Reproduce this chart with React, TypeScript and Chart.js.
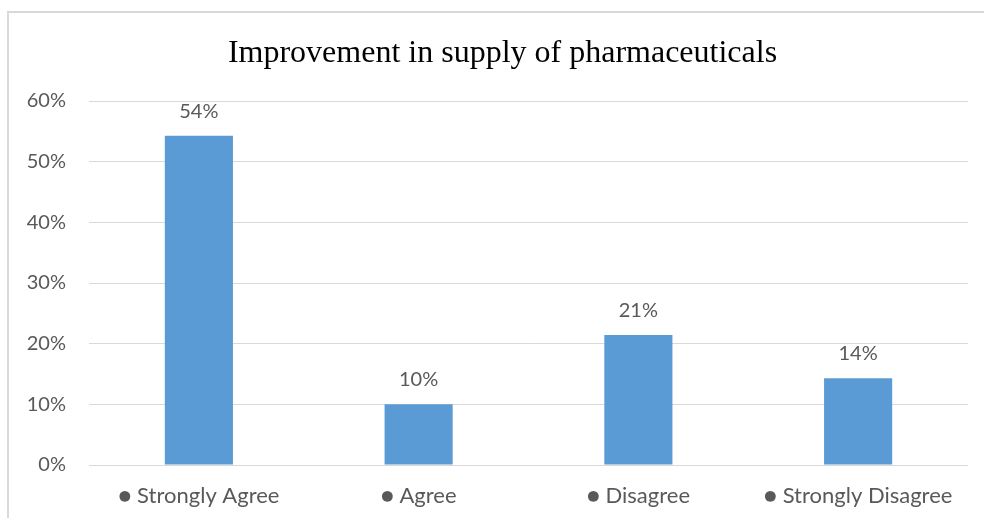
import React, { useEffect, useRef } from "react";
import { Chart, registerables } from "chart.js";

Chart.register(...registerables);

const TITLE = "Improvement in supply of pharmaceuticals";
const categories = ["Strongly Agree", "Agree", "Disagree", "Strongly Disagree"];
const values = [54.29, 10.0, 21.43, 14.29];
const yMin = 0;
const yMax = 60;
const yStep = 10;

const TEXT = "#595959";
const BAR = "#5B9BD5";
const GRID = "#D9D9D9";
const TICK_FONT = "Lato";

const framePlugin = {
  id: "frame",
  beforeDraw(chart: any) {
    const ctx = chart.ctx;
    ctx.save();
    ctx.fillStyle = "#ffffff";
    ctx.fillRect(0, 0, chart.width, chart.height);
    ctx.strokeStyle = GRID;
    ctx.lineWidth = 2;
    ctx.beginPath();
    ctx.moveTo(8, chart.height + 5);
    ctx.lineTo(8, 12);
    ctx.lineTo(chart.width + 5, 12);
    ctx.stroke();
    ctx.restore();
  },
  afterDraw(chart: any) {
    const ctx = chart.ctx;
    ctx.save();
    ctx.font = "32px 'Liberation Serif'";
    ctx.fillStyle = "#000000";
    ctx.textAlign = "center";
    ctx.textBaseline = "alphabetic";
    ctx.fillText(TITLE, 502.5, 62);
    ctx.restore();
  },
};

const labelPlugin = {
  id: "barLabels",
  afterDatasetsDraw(chart: any) {
    const ctx = chart.ctx;
    const meta = chart.getDatasetMeta(0);
    ctx.save();
    ctx.font = `20px ${TICK_FONT}`;
    ctx.fillStyle = TEXT;
    ctx.textAlign = "center";
    ctx.textBaseline = "alphabetic";
    meta.data.forEach((el: any, i: number) => {
      const v = chart.data.datasets[0].data[i];
      ctx.fillText(`${Math.round(v)}%`, el.x, el.y - 18);
    });
    ctx.restore();
  },
};

export default function App() {
  const ref = useRef<HTMLCanvasElement | null>(null);
  useEffect(() => {
    if (!ref.current) return;
    const chart = new Chart(ref.current, {
      type: "bar",
      data: {
        labels: categories,
        datasets: [
          {
            data: values,
            backgroundColor: BAR,
            barPercentage: 1,
            categoryPercentage: 0.31,
          },
        ],
      },
      plugins: [framePlugin, labelPlugin],
      options: {
        animation: false,
        responsive: false,
        devicePixelRatio: 1,
        layout: { padding: { left: 0, right: 16, top: 101, bottom: 0 } },
        plugins: {
          legend: { display: false },
          tooltip: { enabled: false },
          title: { display: false },
        },
        scales: {
          x: {
            grid: { display: false },
            border: { display: false },
            ticks: {
              color: TEXT,
              font: { family: TICK_FONT, size: 22 },
              padding: 10,
              maxRotation: 0,
              autoSkip: false,
              callback: function (this: any, value: any) {
                return "\u25CF " + this.getLabelForValue(value);
              },
            },
            afterFit(scale: any) {
              scale.height = 53;
            },
          },
          y: {
            min: yMin,
            max: yMax,
            grid: { color: GRID, lineWidth: 1, drawTicks: false },
            border: { display: false },
            ticks: {
              stepSize: yStep,
              color: TEXT,
              font: { family: TICK_FONT, size: 20 },
              padding: 23,
              callback: (v: any) => `${v}%`,
            },
            afterFit(scale: any) {
              scale.width = 89;
            },
          },
        },
      },
    });
    return () => chart.destroy();
  }, []);
  return (
    <div style={{ position: "absolute", left: 0, top: 0, width: 984, height: 518, background: "#fff" }}>
      <canvas ref={ref} width={984} height={518} style={{ display: "block" }} />
    </div>
  );
}
